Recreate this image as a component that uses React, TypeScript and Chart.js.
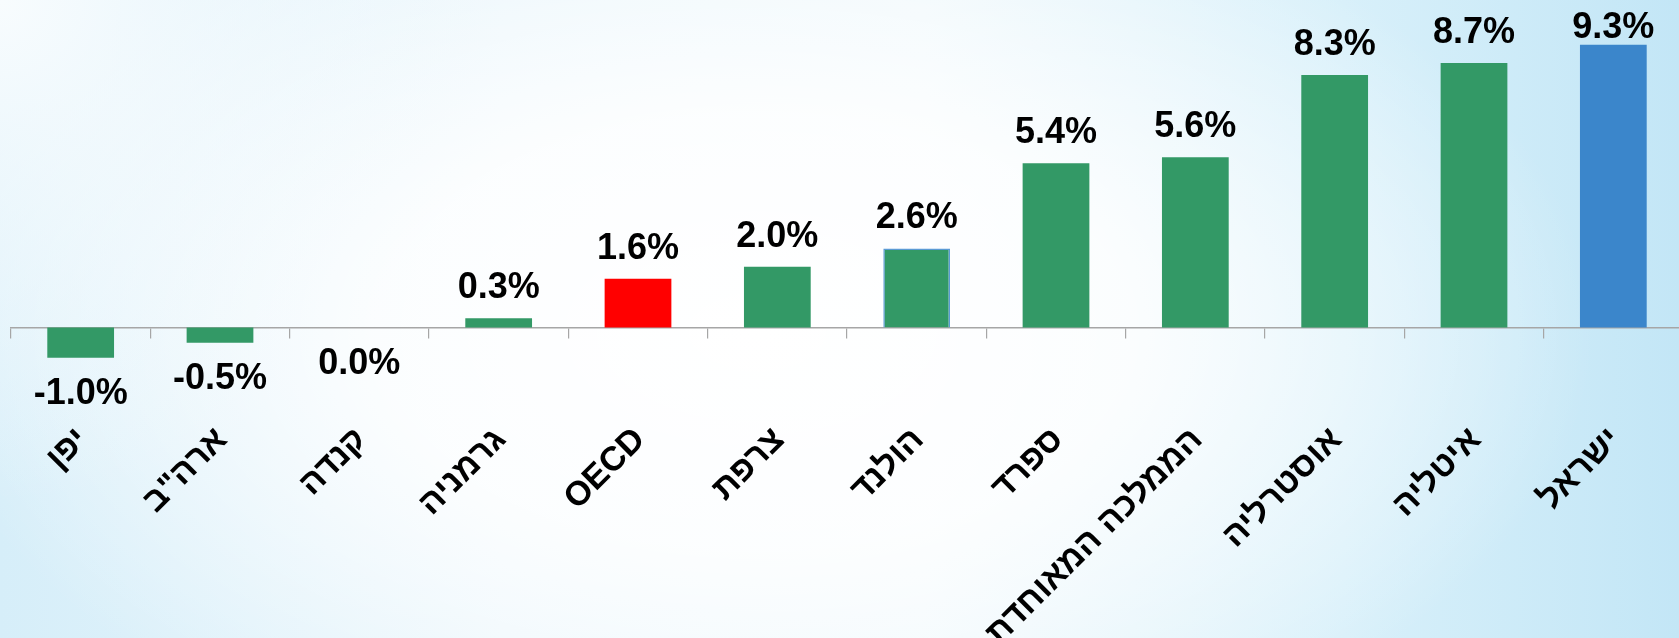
import React, { useEffect, useRef } from "react";
import { Chart, registerables } from "chart.js";

Chart.register(...registerables);

const categories: string[] = [
  "יפן",
  'ארה"ב',
  "קנדה",
  "גרמניה",
  "OECD",
  "צרפת",
  "הולנד",
  "ספרד",
  "הממלכה המאוחדת",
  "אוסטרליה",
  "איטליה",
  "ישראל",
];

const values: number[] = [-1.0, -0.5, 0.0, 0.3, 1.6, 2.0, 2.6, 5.4, 5.6, 8.3, 8.7, 9.3];

const GREEN = "#339966";
const RED = "#ff0000";
const BLUE = "#3b86cb";

const barColors: string[] = [GREEN, GREEN, GREEN, GREEN, RED, GREEN, GREEN, GREEN, GREEN, GREEN, GREEN, BLUE];
const barBorderColors: string[] = [GREEN, GREEN, GREEN, GREEN, RED, GREEN, "#5b9bd5", GREEN, GREEN, GREEN, GREEN, BLUE];
const barBorderWidths: number[] = [0, 0, 0, 0, 0, 0, 1.5, 0, 0, 0, 0, 0];

const FONT = '"Liberation Sans", Arial, sans-serif';

const valueLabelPlugin = {
  id: "valueLabels",
  afterDatasetsDraw(chart: any) {
    const { ctx, chartArea } = chart;
    const meta = chart.getDatasetMeta(0);
    const ds = chart.data.datasets[0];
    ctx.save();
    ctx.font = `bold 36px ${FONT}`;
    ctx.fillStyle = "#000000";
    ctx.textAlign = "center";
    ctx.textBaseline = "alphabetic";
    const capH = 36 * 0.729;
    const gap = 20;
    meta.data.forEach((bar: any, i: number) => {
      const v = ds.data[i] as number;
      const text = v.toFixed(1) + "%";
      let y: number;
      if (v > 0) {
        y = bar.y - gap;
        const minBase = chartArea.top + 12 + capH;
        if (y < minBase) y = minBase;
      } else {
        y = Math.max(bar.y, bar.base) + gap + capH;
      }
      ctx.fillText(text, bar.x, y);
    });
    ctx.restore();
  },
};

export default function App() {
  const canvasRef = useRef<HTMLCanvasElement | null>(null);

  useEffect(() => {
    if (!canvasRef.current) return;
    const chart = new Chart(canvasRef.current, {
      type: "bar",
      data: {
        labels: categories,
        datasets: [
          {
            data: values,
            backgroundColor: barColors,
            borderColor: barBorderColors,
            borderWidth: barBorderWidths,
            barPercentage: 0.479,
            categoryPercentage: 1,
          },
        ],
      },
      options: {
        animation: false,
        responsive: false,
        maintainAspectRatio: false,
        layout: { padding: { left: 11, right: 7, top: 0, bottom: 0 } },
        plugins: {
          legend: { display: false },
          tooltip: { enabled: false },
          title: { display: false },
        },
        scales: {
          x: {
            type: "category",
            position: "bottom",
            offset: true,
            grid: { display: false, offset: true },
            border: { display: false },
            ticks: {
              autoSkip: false,
              maxRotation: 45,
              minRotation: 45,
              padding: 4,
              labelOffset: 2,
              color: "#000000",
              font: { family: FONT, size: 34, weight: "bold" },
            },
            afterFit: (scale: any) => {
              scale.height = 230;
            },
          },
          x0: {
            type: "category",
            position: { y: 0 } as any,
            offset: true,
            grid: {
              display: true,
              offset: true,
              drawOnChartArea: false,
              drawTicks: true,
              tickLength: 10,
              color: "#a6a6a6",
              lineWidth: 1.2,
            },
            border: { display: true, color: "#a6a6a6", width: 1.5 },
            ticks: { display: false },
          },
          y: {
            display: false,
            min: -2.65,
            max: 10.77,
          },
        },
      },
      plugins: [valueLabelPlugin],
    });
    return () => chart.destroy();
  }, []);

  return (
    <div
      style={{
        position: "fixed",
        left: 0,
        top: 0,
        width: 1679,
        height: 638,
        overflow: "hidden",
        background:
          "radial-gradient(circle at 0% 0%, rgba(248,252,254,1) 0%, rgba(248,252,254,0) 28%), " +
          "radial-gradient(ellipse 50% 75% at 45% 52%, #ffffff 0%, rgba(255,255,255,0.85) 45%, rgba(255,255,255,0) 100%), " +
          "linear-gradient(to right, #d6eef9 0%, #eaf6fc 30%, #eef8fc 55%, #d8f0fa 80%, #c3e6f6 100%)",
      }}
    >
      <canvas ref={canvasRef} width={1690} height={638} style={{ width: 1690, height: 638, display: "block" }} />
    </div>
  );
}
